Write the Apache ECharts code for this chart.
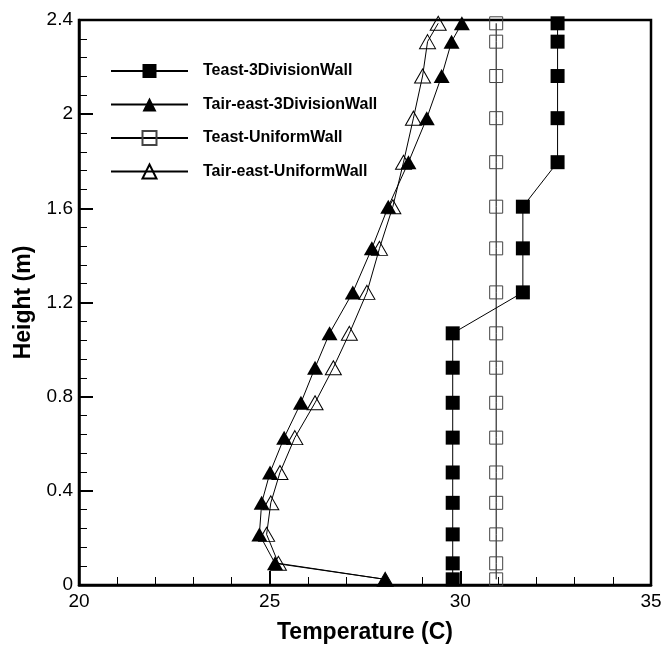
<!DOCTYPE html>
<html>
<head>
<meta charset="utf-8">
<script src="https://cdn.jsdelivr.net/npm/echarts@6/dist/echarts.min.js"></script>
<style>
	html, body { margin: 0; padding: 0; background: #fff; }
	#chart { width: 665px; height: 650px; }
</style>
</head>
<body>
<div id="chart"></div>
<script>
// 높이 (m)
const heights = [0.024, 0.092, 0.215, 0.349, 0.478, 0.626, 0.774, 0.923, 1.069, 1.243, 1.430, 1.607, 1.796, 1.983, 2.162, 2.308, 2.386];

// 온도 (C)
const teast3Div = [29.8, 29.8, 29.8, 29.8, 29.8, 29.8, 29.8, 29.8, 29.8, 31.64, 31.64, 31.64, 32.55, 32.55, 32.55, 32.55, 32.55];
const tairEast3Div = [28.03, 25.14, 24.73, 24.79, 25.01, 25.38, 25.82, 26.19, 26.57, 27.18, 27.68, 28.11, 28.64, 29.12, 29.51, 29.77, 30.04];
const teastUniform = [30.94, 30.94, 30.94, 30.94, 30.94, 30.94, 30.94, 30.94, 30.94, 30.94, 30.94, 30.94, 30.94, 30.94, 30.94, 30.94, 30.94];
const tairEastUniform = [28.03, 25.23, 24.92, 25.03, 25.27, 25.66, 26.19, 26.67, 27.09, 27.55, 27.88, 28.23, 28.51, 28.77, 29.01, 29.14, 29.42];

const seriesNames = ['Teast-3DivisionWall', 'Tair-east-3DivisionWall', 'Teast-UniformWall', 'Tair-east-UniformWall'];

const FONT = '"Liberation Sans", Arial, sans-serif';

function pairs(xs) {
	return xs.map((x, i) => [x, heights[i]]);
}

const chart = echarts.init(document.getElementById('chart'));

const option = {
	animation: false,
	backgroundColor: '#fff',
	grid: {
		left: 79,
		right: 14,
		top: 20,
		bottom: 65,
		show: true,
		borderColor: '#000',
		borderWidth: 2.5
	},
	legend: {
		orient: 'vertical',
		left: 105,
		top: 58,
		itemWidth: 77,
		itemHeight: 17.5,
		itemGap: 17.5,
		data: seriesNames,
		textStyle: {
			fontFamily: FONT,
			fontSize: 16,
			fontWeight: 'bold',
			color: '#000',
			padding: [0, 0, 0, 10]
		}
	},
	xAxis: {
		type: 'value',
		min: 20,
		max: 35,
		interval: 5,
		name: 'Temperature (C)',
		nameLocation: 'middle',
		nameGap: 36,
		nameTextStyle: { fontFamily: FONT, fontSize: 23, fontWeight: 'bold', color: '#000' },
		axisLine: { show: true, onZero: false, lineStyle: { color: '#000', width: 2.5 } },
		axisTick: { show: true, inside: true, length: 14, lineStyle: { color: '#000', width: 2 } },
		minorTick: { show: true, splitNumber: 5, length: 8, lineStyle: { color: '#000', width: 1 } },
		splitLine: { show: false },
		axisLabel: { fontFamily: FONT, fontSize: 19, color: '#000', margin: 7 }
	},
	yAxis: {
		type: 'value',
		min: 0,
		max: 2.4,
		interval: 0.4,
		name: 'Height (m)',
		nameLocation: 'middle',
		nameGap: 44,
		nameTextStyle: { fontFamily: FONT, fontSize: 23, fontWeight: 'bold', color: '#000' },
		axisLine: { show: true, onZero: false, lineStyle: { color: '#000', width: 2.5 } },
		axisTick: { show: true, inside: true, length: 14, lineStyle: { color: '#000', width: 2 } },
		minorTick: { show: true, splitNumber: 5, length: 8, lineStyle: { color: '#000', width: 1 } },
		splitLine: { show: false },
		axisLabel: { fontFamily: FONT, fontSize: 19, color: '#000', margin: 6 }
	},
	series: [
		{
			name: seriesNames[0],
			type: 'line',
			data: pairs(teast3Div),
			symbol: 'rect',
			symbolSize: 14,
			z: 3,
			lineStyle: { color: '#000', width: 1 },
			itemStyle: { color: '#000' }
		},
		{
			name: seriesNames[1],
			type: 'line',
			data: pairs(tairEast3Div),
			symbol: 'triangle',
			symbolSize: [16, 14],
			z: 4,
			lineStyle: { color: '#000', width: 1 },
			itemStyle: { color: '#000' }
		},
		{
			name: seriesNames[2],
			type: 'line',
			data: pairs(teastUniform),
			symbol: 'rect',
			symbolSize: 13,
			z: 2,
			lineStyle: { color: '#000', width: 1 },
			itemStyle: { color: 'rgba(255,255,255,0)', borderColor: '#444', borderWidth: 1 }
		},
		{
			name: seriesNames[3],
			type: 'line',
			data: pairs(tairEastUniform),
			symbol: 'triangle',
			symbolSize: [16, 14],
			z: 2,
			lineStyle: { color: '#000', width: 1 },
			itemStyle: { color: 'rgba(255,255,255,0)', borderColor: '#000', borderWidth: 1 }
		}
	]
};

chart.setOption(option);
</script>
</body>
</html>
